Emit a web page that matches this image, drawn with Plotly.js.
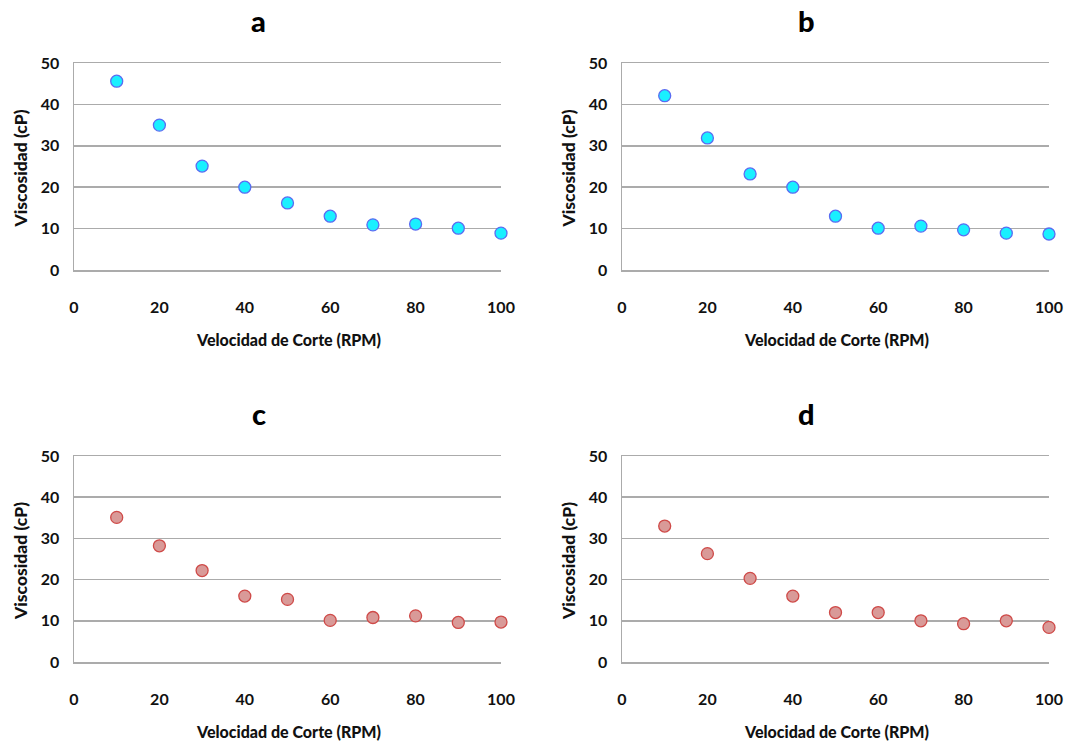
<!DOCTYPE html>
<html>
<head>
<meta charset="utf-8">
<script src="https://cdn.plot.ly/plotly-3.0.1.min.js"></script>
<style>html,body{margin:0;padding:0;background:#fff;}#chart{width:1070px;height:742px;}</style>
</head>
<body>
<div id="chart"></div>
<script>
const rpm = [10, 20, 30, 40, 50, 60, 70, 80, 90, 100];
const viscA = [45.6, 35.0, 25.1, 20.0, 16.2, 13.0, 10.9, 11.1, 10.1, 8.9];
const viscB = [42.1, 31.9, 23.2, 20.0, 13.0, 10.1, 10.6, 9.7, 8.9, 8.7];
const viscC = [35.1, 28.2, 22.2, 16.0, 15.2, 10.1, 10.8, 11.2, 9.6, 9.7];
const viscD = [33.0, 26.3, 20.3, 16.0, 12.0, 12.0, 10.0, 9.3, 10.0, 8.4];
const panelLabels = ["a", "b", "c", "d"];
const xTitle = "Velocidad de Corte (RPM)";
const yTitle = "Viscosidad (cP)";

const W = 1070, H = 742;
const FONT = "Lato, 'Open Sans', sans-serif";
const GRID = "#ababab";
const cyanMarker = {size: 12, color: "#19f0ff", line: {color: "#5a6cf2", width: 1.3}};
const redMarker = {size: 12, color: "#d99a98", line: {color: "#cf4a48", width: 1.3}};

const series = [viscA, viscB, viscC, viscD];
const markers = [cyanMarker, cyanMarker, redMarker, redMarker];
const axSuffix = ["", "2", "3", "4"];

const traces = series.map((ys, i) => ({
  type: "scatter", mode: "markers", x: rpm, y: ys,
  xaxis: "x" + axSuffix[i], yaxis: "y" + axSuffix[i],
  marker: markers[i], cliponaxis: false, showlegend: false,
  hoverinfo: "x+y"
}));

// pixel boxes for each plot area
const boxes = [
  {l: 74, r: 501, t: 63, b: 270},
  {l: 622, r: 1049, t: 63, b: 270},
  {l: 74, r: 501, t: 456, b: 662},
  {l: 622, r: 1049, t: 456, b: 662}
];

const layout = {
  width: W, height: H,
  margin: {l: 0, r: 0, t: 0, b: 0},
  paper_bgcolor: "#ffffff", plot_bgcolor: "#ffffff",
  font: {family: FONT, color: "#111111"},
  showlegend: false,
  annotations: []
};

boxes.forEach((bx, i) => {
  const xa = {
    domain: [bx.l / W, bx.r / W], range: [0, 100], dtick: 20, tick0: 0,
    showgrid: false, zeroline: false,
    showline: true, mirror: true, linecolor: GRID, linewidth: 1.5,
    ticks: "", ticklabelstandoff: 22,
    tickfont: {family: FONT, size: 16, color: "#111111", weight: "bold"},
    anchor: "y" + axSuffix[i], fixedrange: true
  };
  const ya = {
    domain: [1 - bx.b / H, 1 - bx.t / H], range: [0, 50], dtick: 10, tick0: 0,
    showgrid: true, gridcolor: GRID, gridwidth: 1.5,
    zeroline: false, showline: true, linecolor: GRID, linewidth: 1.5,
    ticks: "", ticklabelstandoff: 10,
    tickfont: {family: FONT, size: 16, color: "#111111", weight: "bold"},
    anchor: "x" + axSuffix[i], fixedrange: true
  };
  layout["xaxis" + axSuffix[i]] = xa;
  layout["yaxis" + axSuffix[i]] = ya;

  const cx = (bx.l + bx.r) / 2;
  // panel title
  layout.annotations.push({
    text: panelLabels[i], xref: "paper", yref: "paper",
    x: (cx - 29) / W, y: 1 - (bx.t - 42) / H,
    xanchor: "center", yanchor: "middle", showarrow: false,
    font: {family: FONT, size: 29, color: "#000000", weight: 900}
  });
  // x axis title
  layout.annotations.push({
    text: xTitle, xref: "paper", yref: "paper",
    x: (cx + 1) / W, y: 1 - (bx.b + 69) / H,
    xanchor: "center", yanchor: "middle", showarrow: false,
    font: {family: FONT, size: 16, color: "#111111", weight: 900}
  });
  // y axis title
  layout.annotations.push({
    text: yTitle, xref: "paper", yref: "paper",
    x: (bx.l - 54) / W, y: 1 - ((bx.t + bx.b) / 2 + 2) / H,
    xanchor: "center", yanchor: "middle", textangle: -90, showarrow: false,
    font: {family: FONT, size: 17.5, color: "#111111", weight: 900}
  });
});

Plotly.newPlot("chart", traces, layout, {displayModeBar: false, staticPlot: true});
</script>
</body>
</html>
